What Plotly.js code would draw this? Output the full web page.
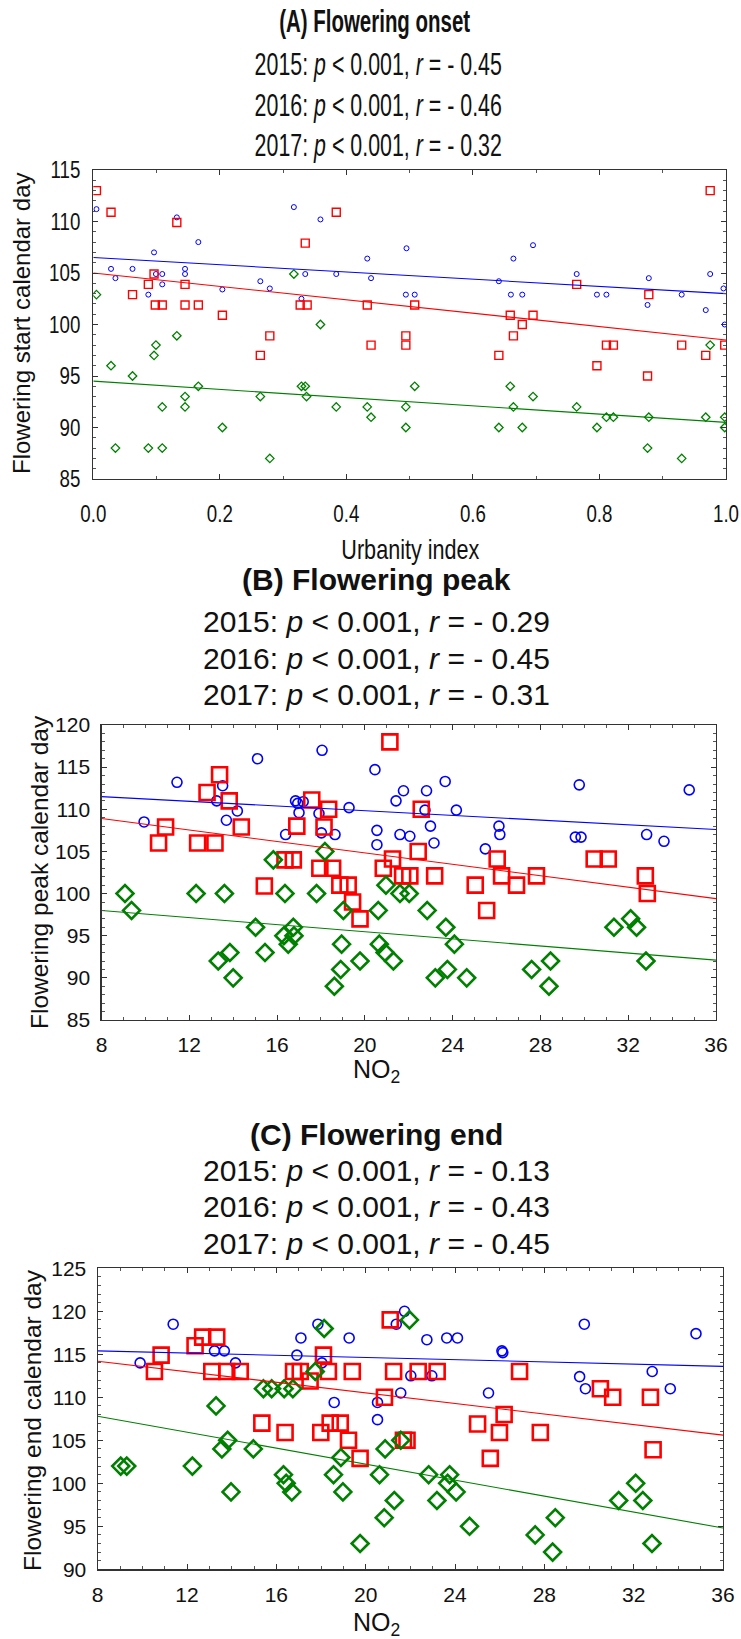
<!DOCTYPE html>
<html>
<head>
<meta charset="utf-8">
<script src="https://cdn.plot.ly/plotly-3.0.1.min.js"></script>
<style>html,body{margin:0;padding:0;background:#fff;}#chart{width:741px;height:1639px;}</style>
</head>
<body>
<div id="chart"></div>
<script>
// ---------- Panel A: Flowering onset vs Urbanity index ----------
const aX2015 = [0.005,0.028,0.035,0.062,0.087,0.096,0.099,0.109,0.109,0.132,0.145,0.145,0.166,0.204,0.264,0.279,0.317,0.329,0.335,0.359,0.384,0.433,0.439,0.495,0.494,0.508,0.641,0.664,0.660,0.678,0.695,0.764,0.796,0.811,0.878,0.876,0.930,0.975,0.968,0.996,0.998];
const aY2015 = [111.2,105.4,104.5,105.4,102.9,107.0,104.9,104.9,103.9,110.4,105.4,104.9,108.0,103.4,104.2,103.5,111.4,102.5,104.9,110.2,104.9,106.4,104.5,107.4,102.9,102.9,104.2,106.4,102.9,102.9,107.7,104.9,102.9,102.9,104.5,101.9,102.9,104.9,101.4,103.5,100.0];
const aX2016 = [0.005,0.028,0.062,0.087,0.096,0.098,0.109,0.132,0.145,0.145,0.166,0.204,0.264,0.279,0.327,0.338,0.335,0.384,0.433,0.439,0.508,0.494,0.494,0.659,0.695,0.678,0.664,0.641,0.764,0.796,0.811,0.822,0.878,0.876,0.930,0.975,0.968,0.998];
const aY2016 = [113.0,110.9,102.9,103.9,104.9,101.9,101.9,109.9,103.9,101.9,101.9,100.9,97.0,98.9,101.9,101.9,107.9,110.9,101.9,98.0,101.9,98.9,98.0,100.9,100.9,100.0,98.9,97.0,103.9,96.0,98.0,98.0,102.9,95.0,98.0,113.0,97.0,98.0];
const aX2017 = [0.005,0.028,0.035,0.062,0.087,0.096,0.099,0.109,0.109,0.132,0.145,0.145,0.166,0.204,0.264,0.279,0.317,0.329,0.335,0.337,0.359,0.384,0.433,0.439,0.494,0.508,0.494,0.641,0.659,0.664,0.678,0.695,0.764,0.796,0.811,0.822,0.878,0.876,0.930,0.968,0.975,0.998,0.998];
const aY2017 = [102.9,96.0,88.0,95.0,88.0,97.0,98.0,92.0,88.0,98.9,93.0,92.0,94.0,90.0,93.0,87.0,104.9,94.0,94.0,93.0,100.0,92.0,92.0,91.0,92.0,94.0,90.0,90.0,94.0,92.0,90.0,93.0,92.0,90.0,91.0,91.0,91.0,88.0,87.0,91.0,98.0,91.0,90.0];
const aFitX = [0, 1];
const aFit2015 = [106.5, 103.0];
const aFit2016 = [105.0, 98.5];
const aFit2017 = [94.5, 90.5];
const aTickVals = [0, 0.2, 0.4, 0.6, 0.8, 1.0];
const aTickText = ["0.0", "0.2", "0.4", "0.6", "0.8", "1.0"];

// ---------- Panel B: Flowering peak vs NO2 ----------
const bX2015 = [9.94,11.44,13.25,13.52,13.69,14.19,15.11,16.39,16.84,16.94,17.19,17.0,17.91,18.05,18.02,18.64,19.28,20.46,20.55,20.55,21.42,21.76,21.60,22.05,22.74,22.81,22.99,23.15,23.66,24.17,25.49,26.11,26.15,29.59,29.85,29.77,32.84,33.63,34.78];
const bY2015 = [108.5,113.2,111.0,112.8,108.7,109.8,116.0,107.0,111.0,110.7,110.9,109.6,109.5,117.0,107.2,107.0,110.2,114.7,107.5,105.8,111.0,112.2,107.0,106.8,109.9,112.2,108.0,106.0,113.3,109.9,105.3,108.0,107.0,106.7,106.7,112.9,107.0,106.2,112.3];
const bX2016 = [10.60,10.92,12.81,12.38,13.17,13.38,13.82,14.37,15.42,16.36,16.74,16.90,17.58,17.95,18.53,18.14,18.35,18.86,19.24,19.44,19.78,20.84,21.26,21.14,22.57,22.43,21.72,22.05,23.18,25.03,25.55,26.03,26.23,26.91,27.82,30.45,31.09,32.78,32.87];
const bY2016 = [106.0,107.9,112.0,106.0,106.0,114.1,111.0,107.9,100.9,104.0,104.0,108.0,111.1,103.0,103.0,107.9,110.0,101.0,101.0,99.0,97.0,103.0,104.1,118.0,110.0,105.0,102.1,102.1,102.1,101.0,98.0,104.1,102.1,101.0,102.1,104.1,104.1,102.1,100.0];
const bX2017 = [9.07,9.37,12.31,13.6,13.32,13.85,14.0,15.02,15.45,15.83,16.36,16.31,16.51,16.74,16.77,17.80,18.18,18.61,18.9,18.94,19.02,19.78,20.61,20.66,20.92,20.96,21.30,21.60,22.02,22.84,23.69,24.08,23.21,23.76,24.64,27.6,28.46,28.39,31.35,32.11,32.38,32.81];
const bY2017 = [100,98,100,100,92,93,90,96,93,104,100,95,94,96,95,100,105,89,91,94,98,92,98,94,93,101,92,100,100,98,96,94,90,91,90,91,92,89,96,97,96,92];
const bFitX = [8, 36];
const bFit2015 = [111.5, 107.6];
const bFit2016 = [108.9, 99.4];
const bFit2017 = [98.0, 92.1];

// ---------- Panel C: Flowering end vs NO2 ----------
const cX2015 = [9.90,11.38,13.23,13.67,14.17,16.92,17.10,17.86,18.04,18.59,19.26,20.53,20.53,21.37,21.74,21.57,22.02,22.96,22.74,23.63,24.11,25.50,26.10,26.14,29.79,29.58,29.84,32.83,33.64,34.79];
const cY2015 = [114.0,118.5,115.4,115.4,114.0,114.9,116.9,118.5,114.0,109.4,116.9,109.4,107.4,118.5,120.0,110.5,112.5,112.5,116.7,116.9,116.9,110.5,115.4,115.2,118.5,112.4,111.0,113.0,111.0,117.4];
const cX2016 = [10.54,10.84,12.36,12.70,13.33,13.11,13.78,14.38,15.35,16.39,16.77,17.07,17.51,17.99,18.41,18.86,18.11,18.33,19.23,19.75,19.40,21.10,20.84,21.25,22.35,23.20,21.69,21.85,26.89,26.20,25.01,25.99,27.82,25.58,30.51,31.06,32.75,32.87];
const cY2016 = [113.0,114.9,116.0,117.0,117.0,113.0,113.0,113.0,107.0,105.9,113.0,113.0,111.9,105.9,107.0,107.0,114.9,113.0,105.0,102.9,113.0,119.0,110.0,113.0,113.0,113.0,105.0,105.0,113.0,108.0,106.9,105.9,105.9,102.9,111.0,110.0,110.0,103.9];
const cX2017 = [9.03,9.30,12.24,13.30,13.56,13.82,13.97,14.97,15.42,15.79,16.35,16.74,16.32,16.44,16.69,17.74,18.14,18.56,18.89,18.98,19.75,21.96,21.57,20.87,20.62,21.28,20.83,22.82,23.76,23.67,24.05,23.19,24.65,28.49,27.59,28.37,31.33,32.09,32.41,32.82];
const cY2017 = [102,102,102,109,104,105,99,104,111,111,111,111,101,100,99,113,118,101,103,99,93,119,105,104,101,98,96,101,101,100,99,98,95,96,94,92,98,100,98,93];
const cFitX = [8, 36];
const cFit2015 = [115.4, 113.6];
const cFit2016 = [114.2, 105.6];
const cFit2017 = [107.8, 94.8];

// ---------- Text ----------
const titleA = "(A) Flowering onset";
const statsA = ["2015: <i>p</i> &lt; 0.001, <i>r</i> = - 0.45", "2016: <i>p</i> &lt; 0.001, <i>r</i> = - 0.46", "2017: <i>p</i> &lt; 0.001, <i>r</i> = - 0.32"];
const titleB = "(B) Flowering peak";
const statsB = ["2015: <i>p</i> &lt; 0.001, <i>r</i> = - 0.29", "2016: <i>p</i> &lt; 0.001, <i>r</i> = - 0.45", "2017: <i>p</i> &lt; 0.001, <i>r</i> = - 0.31"];
const titleC = "(C) Flowering end";
const statsC = ["2015: <i>p</i> &lt; 0.001, <i>r</i> = - 0.13", "2016: <i>p</i> &lt; 0.001, <i>r</i> = - 0.43", "2017: <i>p</i> &lt; 0.001, <i>r</i> = - 0.45"];
const xTitleA = "Urbanity index";
const yTitleA = "Flowering start calendar day";
const xTitleBC = "NO<sub>2</sub>";
const yTitleB = "Flowering peak calendar day";
const yTitleC = "Flowering end calendar day";

// ---------- Styling ----------
const W = 741, H = 1639;
const BLUE = "#0000ff", RED = "#ff0000", GREEN = "#008000";
const SANS = "Liberation Sans, Arial, sans-serif";
const INK = "#111";

function px2x(p) { return p / W; }
function py2y(p) { return 1 - p / H; }

const traces = [];
function addPanel(ax, sets, fits, fitX, sizes) {
  const xa = ax === 1 ? "x" : "x" + ax, ya = ax === 1 ? "y" : "y" + ax;
  const cfg = [
    {sym: "circle-open", color: BLUE},
    {sym: "square-open", color: RED},
    {sym: "diamond-open", color: GREEN}
  ];
  for (let i = 0; i < 3; i++) {
    traces.push({
      type: "scatter", mode: "markers", xaxis: xa, yaxis: ya,
      x: sets[i][0], y: sets[i][1], hoverinfo: "skip",
      marker: {symbol: cfg[i].sym, size: sizes[i][0], color: cfg[i].color,
               line: {width: sizes[i][1], color: cfg[i].color}}
    });
  }
  for (let i = 0; i < 3; i++) {
    traces.push({
      type: "scatter", mode: "lines", xaxis: xa, yaxis: ya,
      x: fitX, y: fits[i], hoverinfo: "skip",
      line: {color: cfg[i].color, width: sizes[3]}
    });
  }
}

addPanel(1, [[aX2015, aY2015], [aX2016, aY2016], [aX2017, aY2017]], [aFit2015, aFit2016, aFit2017], aFitX,
  [[5, 1], [8, 1.4], [6.5, 1.3], 1.1]);
addPanel(2, [[bX2015, bY2015], [bX2016, bY2016], [bX2017, bY2017]], [bFit2015, bFit2016, bFit2017], bFitX,
  [[10, 1.6], [15, 2.6], [13, 2.6], 1.1]);
addPanel(3, [[cX2015, cY2015], [cX2016, cY2016], [cX2017, cY2017]], [cFit2015, cFit2016, cFit2017], cFitX,
  [[10, 1.6], [15, 2.6], [13, 2.6], 1.1]);

function axis(opts) {
  return Object.assign({
    showline: true, linecolor: "#333", linewidth: 1.2, mirror: "ticks",
    ticks: "inside", ticklen: 5, tickwidth: 1, tickcolor: "#333",
    showgrid: false, zeroline: false, fixedrange: true, ticklabeloverflow: "allow"
  }, opts);
}
const minorY = {ticks: "inside", ticklen: 3, dtick: 1, tickcolor: "#555", showgrid: false};

const layout = {
  width: W, height: H,
  margin: {l: 0, r: 0, t: 0, b: 0},
  paper_bgcolor: "#fff", plot_bgcolor: "#fff",
  showlegend: false,
  xaxis: axis({domain: [px2x(93.3), px2x(726)], range: [0, 1], tickmode: "array",
    tickvals: aTickVals, ticktext: aTickText,
    minor: {ticks: "inside", ticklen: 3, dtick: 0.1, tick0: 0, tickcolor: "#555", showgrid: false},
    tickfont: {family: SANS, size: 24, color: INK}, ticklabelstandoff: 13, anchor: "y"}),
  yaxis: axis({domain: [py2y(479), py2y(170)], range: [85, 115], dtick: 5, minor: minorY,
    tickfont: {family: SANS, size: 24, color: INK}, ticklabelstandoff: 7, anchor: "x"}),
  xaxis2: axis({domain: [px2x(101.5), px2x(716)], range: [8, 36], dtick: 4, tick0: 8,
    minor: {ticks: "inside", ticklen: 3, dtick: 1, tickcolor: "#555", showgrid: false},
    tickfont: {family: SANS, size: 21, color: INK}, ticklabelstandoff: 6, anchor: "y2"}),
  yaxis2: axis({domain: [py2y(1020), py2y(725)], range: [85, 120], dtick: 5, minor: minorY,
    tickfont: {family: SANS, size: 21, color: INK}, ticklabelstandoff: 6, anchor: "x2"}),
  xaxis3: axis({domain: [px2x(97.7), px2x(723)], range: [8, 36], dtick: 4, tick0: 8,
    minor: {ticks: "inside", ticklen: 3, dtick: 1, tickcolor: "#555", showgrid: false},
    tickfont: {family: SANS, size: 21, color: INK}, ticklabelstandoff: 6, anchor: "y3"}),
  yaxis3: axis({domain: [py2y(1569.3), py2y(1268.3)], range: [90, 125], dtick: 5, minor: minorY,
    tickfont: {family: SANS, size: 21, color: INK}, ticklabelstandoff: 6, anchor: "x3"}),
  annotations: []
};

const narrow = {};
function ann(text, xpx, ypx, font, extra, s) {
  if (s) narrow[layout.annotations.length] = s;
  layout.annotations.push(Object.assign({
    text: text, xref: "paper", yref: "paper", x: px2x(xpx), y: py2y(ypx),
    xanchor: "center", yanchor: "middle", showarrow: false, font: font
  }, extra || {}));
}

// Panel A texts (condensed look)
ann("<b>" + titleA + "</b>", 374, 22, {family: SANS, size: 31, color: INK}, null, 0.66);
statsA.forEach((t, i) => ann(t, 378, 65 + i * 40.5, {family: SANS, size: 31, color: INK}, null, 0.69));
ann(yTitleA, 21, 324, {family: SANS, size: 24, color: INK}, {textangle: -90});
ann(xTitleA, 410, 550, {family: SANS, size: 27, color: INK}, null, 0.8);

// Panel B texts
ann("<b>" + titleB + "</b>", 376, 579, {family: SANS, size: 30, color: INK});
statsB.forEach((t, i) => ann(t, 376, 621 + i * 37, {family: SANS, size: 30, color: INK}));
ann(yTitleB, 39, 872, {family: SANS, size: 24.5, color: INK}, {textangle: -90});
ann(xTitleBC, 376, 1071, {family: SANS, size: 25, color: INK});

// Panel C texts
ann("<b>" + titleC + "</b>", 376, 1134, {family: SANS, size: 30, color: INK});
statsC.forEach((t, i) => ann(t, 376, 1170 + i * 36.5, {family: SANS, size: 30, color: INK}));
ann(yTitleC, 32, 1420, {family: SANS, size: 24.5, color: INK}, {textangle: -90});
ann(xTitleBC, 376, 1624, {family: SANS, size: 25, color: INK});

function squeeze(el, s, anchorX) {
  const prev = el.getAttribute("transform") || "";
  el.setAttribute("transform", prev + " translate(" + anchorX + ",0) scale(" + s + ",1) translate(" + (-anchorX) + ",0)");
}
function condense(gd) {
  Object.keys(narrow).forEach(i => {
    const t = gd.querySelector('.annotation[data-index="' + i + '"] text.annotation-text');
    if (!t) return;
    const bb = t.getBBox();
    squeeze(t, narrow[i], bb.x + bb.width / 2);
  });
  // panel A tick labels drawn in a condensed style
  gd.querySelectorAll('.subplot.xy .xaxislayer-above .xtick text').forEach(t => {
    const bb = t.getBBox(); squeeze(t, 0.78, bb.x + bb.width / 2);
  });
  gd.querySelectorAll('.subplot.xy .yaxislayer-above .ytick text').forEach(t => {
    const bb = t.getBBox(); squeeze(t, 0.78, bb.x + bb.width);
  });
}

Plotly.newPlot("chart", traces, layout, {staticPlot: true, displayModeBar: false}).then(condense);
</script>
</body>
</html>
